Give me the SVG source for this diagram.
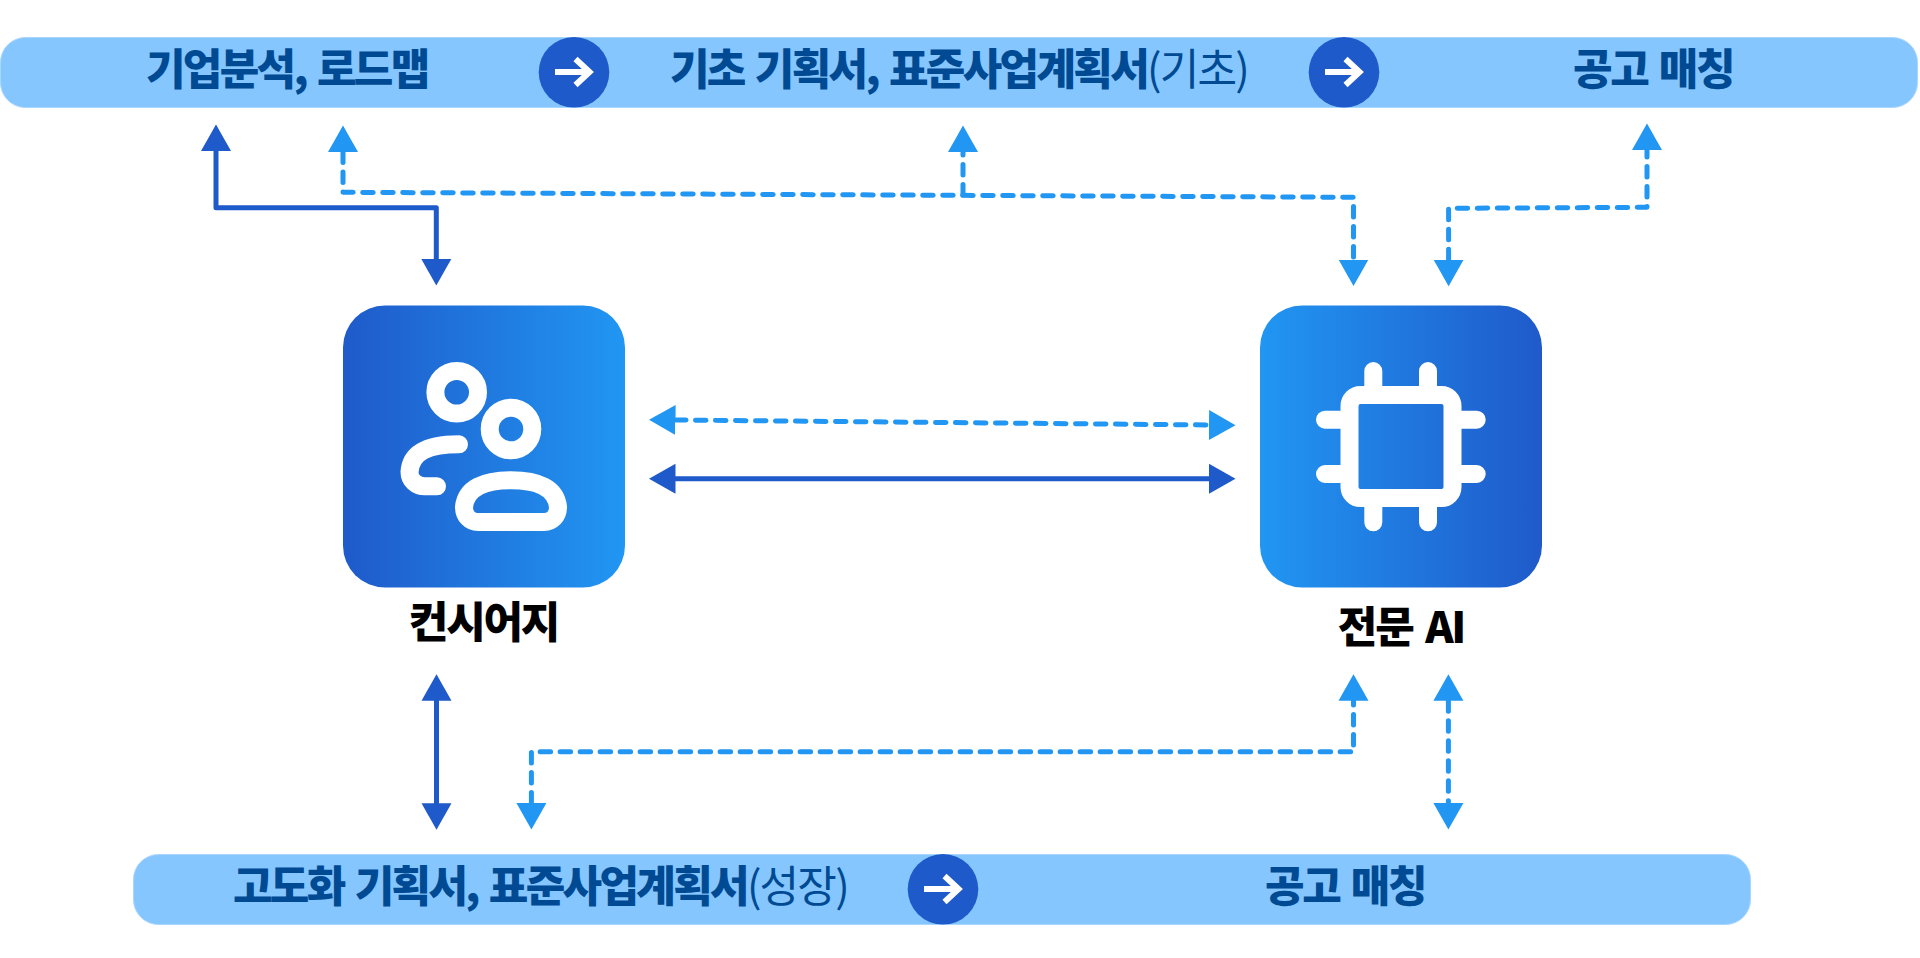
<svg xmlns="http://www.w3.org/2000/svg" width="1920" height="958" viewBox="0 0 1920 958">
<style>
.bar{fill:#85C6FF;stroke:#A9D6FF;stroke-width:1}
.bt{fill:#004A93;font-family:"Noto Sans CJK KR","Noto Sans",sans-serif;font-size:43px;font-weight:900;letter-spacing:-2.7px;word-spacing:4px}
.wd{letter-spacing:-2.4px}
.lt{font-weight:400;letter-spacing:-1.8px}
.lb{fill:#000;font-family:"Noto Sans CJK KR","Noto Sans",sans-serif;font-size:43px;font-weight:900;letter-spacing:-2.2px;word-spacing:5px;text-anchor:middle}
.dot{fill:#1F5ACA}
.arw{fill:none;stroke:#fff;stroke-width:6}
.ic{fill:none;stroke:#fff;stroke-width:18;stroke-linecap:round;stroke-linejoin:round}
.s{fill:none;stroke:#1F5ACA;stroke-width:5;stroke-linejoin:round;stroke-linecap:round;marker-start:url(#ms);marker-end:url(#ms)}
.d{fill:none;stroke:#2196F3;stroke-width:5;stroke-linejoin:round;stroke-linecap:round;stroke-dasharray:10.500 9.500;marker-start:url(#md);marker-end:url(#md)}
.d1{marker-start:none}
</style>
<defs>
<linearGradient id="g1" x1="0" y1="0" x2="1" y2="0"><stop offset="0" stop-color="#1F5ACA"/><stop offset="1" stop-color="#2196F3"/></linearGradient>
<linearGradient id="g2" x1="0" y1="0" x2="1" y2="0"><stop offset="0" stop-color="#2196F3"/><stop offset="1" stop-color="#1F5ACA"/></linearGradient>
<marker id="ms" markerUnits="userSpaceOnUse" markerWidth="27" markerHeight="31" refX="0" refY="15.5" orient="auto-start-reverse"><path d="M0 .5L26.500 15.500L0 30.500Z" fill="#1F5ACA"/></marker>
<marker id="md" markerUnits="userSpaceOnUse" markerWidth="27" markerHeight="31" refX="0" refY="15.500" orient="auto-start-reverse"><path d="M0 .5L26.500 15.500L0 30.500Z" fill="#2196F3"/></marker>
</defs>
<rect width="1920" height="958" fill="#fff"/>
<g id="connectors">
<path class="s" d="M216 151V207.700H436.300V259"/>
<path class="d" d="M343 152V192.300L1353.500 197.300V259.500"/>
<path class="d d1" d="M963 195V152"/>
<path class="d" d="M1448.600 259.700V208.300L1647 207.300V150"/>
<path class="d" d="M675.500 420L1209 425"/>
<path class="s" d="M675.500 478.700H1209"/>
<path class="s" d="M436.500 700.700V803.300"/>
<path class="d" d="M531.400 803V751.700H1353.500V700.700"/>
<path class="d" d="M1448.400 700.700V803"/>
</g>
<g id="bar-top">
<rect class="bar" x=".5" y="37.500" width="1917" height="70" rx="25"/>
<text class="bt" x="146" y="85">기업분석, 로드맵</text>
<text class="bt" y="85"><tspan x="670">기초 기획서, 표준사업계획서</tspan><tspan class="lt">(기초)</tspan></text>
<text class="bt wd" x="1573" y="85">공고 매칭</text>
</g>
<g id="step-top-1"><circle class="dot" cx="574" cy="72.300" r="35.300"/><path class="arw" d="M555 72H589M575.500 59L589.500 72L575.500 85"/></g>
<g id="step-top-2"><circle class="dot" cx="1344" cy="72.300" r="35.300"/><path class="arw" d="M1325 72H1359M1345.500 59L1359.500 72L1345.500 85"/></g>
<g id="bar-bottom">
<rect class="bar" x="133.500" y="854.500" width="1617" height="70" rx="25"/>
<text class="bt" x="233" y="902"><tspan>고도화 기획서, 표준사업계획서</tspan><tspan class="lt">(성장)</tspan></text>
<text class="bt wd" x="1265" y="902">공고 매칭</text>
</g>
<g id="step-bottom"><circle class="dot" cx="943" cy="889.300" r="35.300"/><path class="arw" d="M924 889H958M944.500 876L958.500 889L944.500 902"/></g>
<g id="concierge">
<rect x="343" y="305.500" width="282" height="282" rx="42" fill="url(#g1)"/>
<circle class="ic" cx="456.700" cy="392.300" r="21.300"/>
<circle class="ic" cx="511" cy="429" r="21.300"/>
<path class="ic" d="M459 444.300C430 444.300 411 451 409.500 472C409.500 480 416 486.300 425 486.300H437"/>
<path class="ic" d="M478 522H544C552 522 558 516 558 507C556 488 538 480.300 511 480.300C484 480.300 466 488 464 507C464 516 470 522 478 522Z"/>
<text class="lb" x="483.500" y="638">컨시어지</text>
</g>
<g id="expert-ai">
<rect x="1260" y="305.500" width="282" height="282" rx="42" fill="url(#g2)"/>
<rect class="ic" x="1349.500" y="395" width="103" height="103" rx="11"/>
<path class="ic" d="M1373.300 371V386M1428 371V386M1373.300 507V522.300M1428 507V522.300M1325 419.700H1340M1325 474H1340M1461 419.700H1476.700M1461 474H1476.700"/>
<text class="lb" x="1401" y="643">전문 AI</text>
</g>
</svg>
